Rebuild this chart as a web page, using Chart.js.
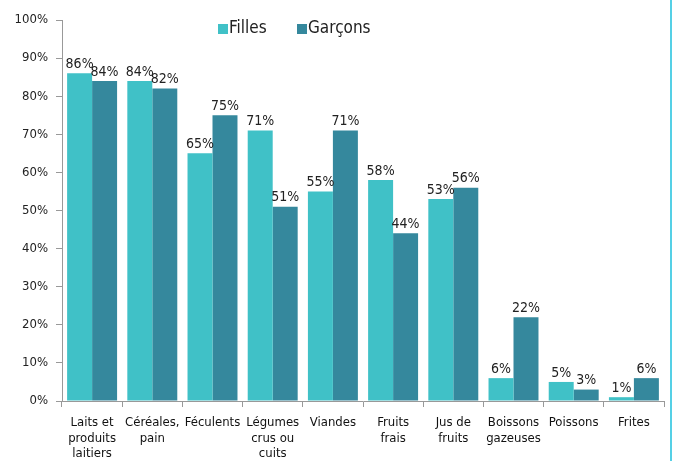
<!DOCTYPE html>
<html>
<head>
<meta charset="utf-8">
<script src="https://cdn.jsdelivr.net/npm/chart.js@4"></script>
<style>
  body { margin: 0; background: #fff; }
  #wrap { position: relative; width: 675px; height: 461px; }
  #edge { position: absolute; left: 670px; top: 0; width: 2px; height: 461px; background: #55d0e6; }
</style>
</head>
<body>
<div id="wrap">
  <canvas id="myChart" width="675" height="461"></canvas>
  <div id="edge"></div>
</div>
<script>
var categories = [
  ['Laits et', 'produits', 'laitiers'],
  ['Céréales,', 'pain'],
  ['Féculents'],
  ['Légumes', 'crus ou', 'cuits'],
  ['Viandes'],
  ['Fruits', 'frais'],
  ['Jus de', 'fruits'],
  ['Boissons', 'gazeuses'],
  ['Poissons'],
  ['Frites']
];
var filles = [86, 84, 65, 71, 55, 58, 53, 6, 5, 1];
var garcons = [84, 82, 75, 51, 71, 44, 56, 22, 3, 6];
var seriesNames = ['Filles', 'Garçons'];
var yTicks = [0, 10, 20, 30, 40, 50, 60, 70, 80, 90, 100];

var numFont = "'DejaVu Sans Condensed', 'DejaVu Sans', sans-serif";

// labels above the bars + legend inside the plot
var extras = {
  id: 'extras',
  afterDatasetsDraw(chart) {
    var ctx = chart.ctx;
    ctx.save();
    ctx.font = '14px ' + numFont;
    ctx.fillStyle = '#222';
    ctx.textAlign = 'center';
    ctx.textBaseline = 'bottom';
    chart.data.datasets.forEach(function (ds, i) {
      chart.getDatasetMeta(i).data.forEach(function (bar, j) {
        ctx.fillText(ds.data[j] + '%', bar.x, bar.y - 2);
      });
    });
    // legend
    var x = 218;
    ctx.font = '17px ' + numFont;
    ctx.textAlign = 'left';
    ctx.textBaseline = 'middle';
    chart.data.datasets.forEach(function (ds) {
      ctx.fillStyle = ds.backgroundColor;
      ctx.fillRect(x, 24, 10, 10);
      ctx.fillStyle = '#222';
      ctx.fillText(ds.label, x + 11, 29);
      x += 79;
    });
    ctx.restore();
  }
};

new Chart(document.getElementById('myChart'), {
  type: 'bar',
  data: {
    labels: categories,
    datasets: [
      { label: seriesNames[0], data: filles, backgroundColor: '#40c1c7' },
      { label: seriesNames[1], data: garcons, backgroundColor: '#35889d' }
    ]
  },
  options: {
    responsive: false,
    animation: false,
    layout: { padding: { top: 20, right: 11, left: 0, bottom: 0 } },
    plugins: { legend: { display: false }, tooltip: { enabled: false } },
    datasets: { bar: { categoryPercentage: 0.83, barPercentage: 1 } },
    scales: {
      x: {
        grid: { drawOnChartArea: false, drawTicks: true, tickLength: 6, color: '#999' },
        border: { color: '#999' },
        ticks: { color: '#111', font: { family: numFont, size: 13, lineHeight: 1.2 }, padding: 8, maxRotation: 0, autoSkip: false },
        afterFit: function (s) { s.height = 60; }
      },
      y: {
        min: 0, max: 100,
        afterBuildTicks: function (s) { s.ticks = yTicks.map(function (v) { return { value: v }; }); },
        grid: { drawOnChartArea: false, drawTicks: true, tickLength: 6, color: '#999' },
        border: { color: '#999' },
        ticks: { color: '#222', font: { family: numFont, size: 13 }, padding: 8,
          callback: function (v) { return v + '%'; } },
        afterFit: function (s) { s.width = 62; }
      }
    }
  },
  plugins: [extras]
});
</script>
</body>
</html>
